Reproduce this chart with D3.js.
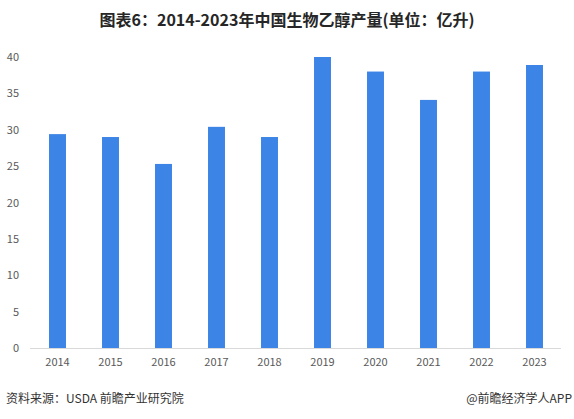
<!DOCTYPE html>
<html lang="zh">
    <head>
        <meta charset="utf-8">
        <title>2014-2023年中国生物乙醇产量</title>
        <script type="text/javascript" src="https://d3js.org/d3.v7.min.js"></script>
        <style type="text/css">
            body { margin: 0; background: #fff; }
            text { font-family: "Microsoft YaHei", "Noto Sans CJK SC", sans-serif; }
        </style>
    </head>
    <body>
        <script type="text/javascript">
            //Width and height
            var w = 574;
            var h = 419;

            var years = ["2014", "2015", "2016", "2017", "2018", "2019", "2020", "2021", "2022", "2023"];
            var output = [29.4, 29.0, 25.3, 30.4, 29.0, 40.0, 38.0, 34.1, 38.0, 38.9];
            var yTicks = [0, 5, 10, 15, 20, 25, 30, 35, 40];

            var svg = d3.select("body")
                        .append("svg")
                        .attr("width", w)
                        .attr("height", h);

            var x = d3.scaleBand()
                      .domain(years)
                      .range([31, 561])
                      .paddingInner(0.68)
                      .paddingOuter(0.34);

            var y = d3.scaleLinear()
                      .domain([0, 40])
                      .range([348, 57]);

            //Title
            svg.append("text")
               .attr("x", 287)
               .attr("y", 26)
               .attr("text-anchor", "middle")
               .attr("font-size", "16px")
               .attr("font-weight", "bold")
               .attr("fill", "#262626")
               .text("图表6：2014-2023年中国生物乙醇产量(单位：亿升)");

            //Y axis labels (no line)
            svg.selectAll(".ylab")
               .data(yTicks)
               .enter()
               .append("text")
               .attr("class", "ylab")
               .attr("x", 19)
               .attr("y", function(d) { return y(d) + 4; })
               .attr("text-anchor", "end")
               .attr("font-size", "11px")
               .attr("fill", "#595959")
               .text(function(d) { return d; });

            //Bars
            svg.selectAll("rect")
               .data(output)
               .enter()
               .append("rect")
               .attr("x", function(d, i) { return x(years[i]); })
               .attr("y", function(d) { return y(d); })
               .attr("width", x.bandwidth())
               .attr("height", function(d) { return y(0) - y(d); })
               .attr("fill", "#3c85e6");

            //X axis
            var xAxis = svg.append("g")
               .attr("transform", "translate(0," + y(0) + ")")
               .call(d3.axisBottom(x).tickSize(0).tickPadding(10));
            xAxis.select(".domain").attr("stroke", "#d9d9d9").attr("d", "M30,0.5H561");
            xAxis.selectAll("text")
               .attr("font-size", "11px")
               .attr("fill", "#595959")
               .style("font-family", "\"Microsoft YaHei\", \"Noto Sans CJK SC\", sans-serif");

            //Footer
            svg.append("text")
               .attr("x", 6)
               .attr("y", 403)
               .attr("font-size", "12px")
               .attr("fill", "#333")
               .text("资料来源：USDA 前瞻产业研究院");

            svg.append("text")
               .attr("x", 572)
               .attr("y", 403)
               .attr("text-anchor", "end")
               .attr("font-size", "12px")
               .attr("fill", "#333")
               .text("@前瞻经济学人APP");
        </script>
    </body>
</html>
